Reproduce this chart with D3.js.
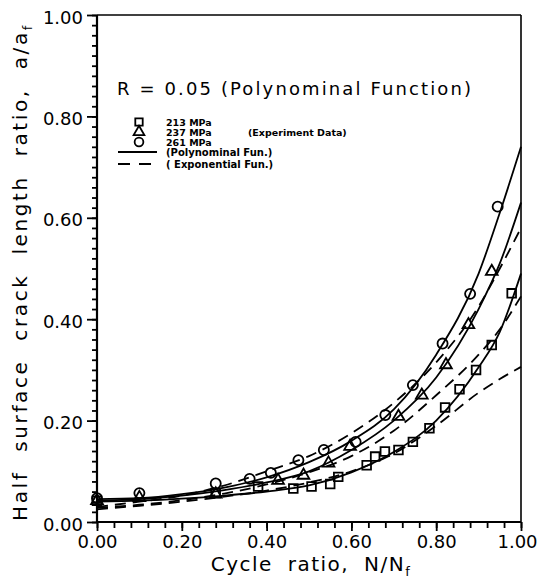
<!DOCTYPE html>
<html>
<head>
<meta charset="utf-8">
<script src="https://cdn.jsdelivr.net/npm/d3@7"></script>
<style>
  body { margin: 0; background: #fff; }
  text { font-family: "DejaVu Sans", "Liberation Sans", sans-serif; fill: #000; }
</style>
</head>
<body>
<div id="chart"></div>
<script>
// R = 0.05 crack growth, a/af vs N/Nf

// tick values
const majorTicks = [0, 0.2, 0.4, 0.6, 0.8, 1.0];

// experiment data
const squareX = [0, 0.28, 0.38, 0.463, 0.506, 0.55, 0.569, 0.636, 0.656, 0.679, 0.711, 0.745, 0.784, 0.821, 0.855, 0.894, 0.931, 0.978];
const squareY = [0.042, 0.057, 0.07, 0.066, 0.07, 0.075, 0.089, 0.112, 0.129, 0.139, 0.142, 0.158, 0.185, 0.226, 0.262, 0.30, 0.349, 0.451];

const triangleX = [0, 0.10, 0.28, 0.427, 0.487, 0.546, 0.597, 0.711, 0.766, 0.823, 0.876, 0.931];
const triangleY = [0.042, 0.048, 0.055, 0.082, 0.092, 0.116, 0.149, 0.208, 0.25, 0.31, 0.389, 0.494];

const circleX = [0, 0.10, 0.28, 0.36, 0.41, 0.475, 0.535, 0.61, 0.68, 0.745, 0.815, 0.88, 0.945];
const circleY = [0.047, 0.057, 0.076, 0.085, 0.097, 0.122, 0.142, 0.158, 0.211, 0.27, 0.352, 0.45, 0.622];

// fitted curves, sampled off the plot
const fitX = [0, 0.1, 0.2, 0.3, 0.4, 0.5, 0.6, 0.7, 0.8, 0.9, 0.95, 1.0];
const squarePoly   = [0.040, 0.042, 0.046, 0.052, 0.060, 0.072, 0.098, 0.138, 0.200, 0.305, 0.375, 0.490];
const squareExp    = [0.025, 0.032, 0.040, 0.050, 0.062, 0.078, 0.100, 0.135, 0.190, 0.255, 0.282, 0.306];
const trianglePoly = [0.042, 0.045, 0.052, 0.063, 0.078, 0.100, 0.142, 0.200, 0.285, 0.420, 0.510, 0.630];
const triangleExp  = [0.028, 0.034, 0.043, 0.056, 0.074, 0.098, 0.130, 0.180, 0.250, 0.330, 0.380, 0.445];
const circlePoly   = [0.045, 0.047, 0.055, 0.068, 0.088, 0.118, 0.160, 0.222, 0.330, 0.490, 0.610, 0.740];
const circleExp    = [0.030, 0.040, 0.052, 0.072, 0.100, 0.130, 0.175, 0.235, 0.315, 0.425, 0.500, 0.580];

const W = 538, H = 582;
const margin = { top: 15, right: 17, bottom: 60, left: 97 };
const innerW = W - margin.left - margin.right;
const innerH = H - margin.top - margin.bottom;

const svg = d3.select("#chart").append("svg")
  .attr("width", W)
  .attr("height", H);

const g = svg.append("g").attr("transform", `translate(${margin.left},${margin.top})`);

const x = d3.scaleLinear().domain([0, 1]).range([0, innerW]);
const y = d3.scaleLinear().domain([0, 1]).range([innerH, 0]);

// ---- axes ----
const yMinor = d3.range(0, 51).map(i => i * 0.02);
const xMinor = d3.range(0, 26).map(i => i * 0.04);

const yMinorAxis = g.append("g")
  .call(d3.axisLeft(y).tickValues(yMinor).tickSize(5).tickFormat(""));
const yMajorAxis = g.append("g")
  .call(d3.axisLeft(y).tickValues(majorTicks).tickSize(10).tickPadding(4).tickFormat(d3.format(".2f")));
const xMinorAxis = g.append("g").attr("transform", `translate(0,${innerH})`)
  .call(d3.axisBottom(x).tickValues(xMinor).tickSize(6).tickFormat(""));
const xMajorAxis = g.append("g").attr("transform", `translate(0,${innerH})`)
  .call(d3.axisBottom(x).tickValues(majorTicks).tickSize(9).tickPadding(4).tickFormat(d3.format(".2f")));

[yMinorAxis, yMajorAxis, xMinorAxis, xMajorAxis].forEach(a => {
  a.select(".domain").remove();
  a.selectAll("line").attr("stroke", "#000").attr("stroke-width", 1.8);
  a.selectAll("text").style("font-size", "18px").style("font-family", "DejaVu Sans");
});
yMajorAxis.selectAll("text").attr("dy", "0.45em");
// last x label sits against the page edge
xMajorAxis.selectAll("text").filter(d => d === 1).attr("dx", -4);

// frame
g.append("line").attr("x1", 0).attr("x2", 0).attr("y1", 0).attr("y2", innerH)
  .attr("stroke", "#000").attr("stroke-width", 2.2);
g.append("line").attr("x1", 0).attr("x2", innerW).attr("y1", innerH).attr("y2", innerH)
  .attr("stroke", "#000").attr("stroke-width", 2.2);
g.append("line").attr("x1", 0).attr("x2", innerW).attr("y1", 0).attr("y2", 0)
  .attr("stroke", "#000").attr("stroke-width", 1.5);
g.append("line").attr("x1", innerW).attr("x2", innerW).attr("y1", 0).attr("y2", innerH)
  .attr("stroke", "#000").attr("stroke-width", 1.6);

// ---- fitted curves ----
const line = d3.line()
  .x(d => x(d[0]))
  .y(d => y(d[1]))
  .curve(d3.curveMonotoneX);

const curves = [
  { vals: squarePoly, dash: null },
  { vals: trianglePoly, dash: null },
  { vals: circlePoly, dash: null },
  { vals: squareExp, dash: "11,7" },
  { vals: triangleExp, dash: "11,7" },
  { vals: circleExp, dash: "11,7" }
];

g.selectAll(".fit")
  .data(curves)
  .enter().append("path")
  .attr("class", "fit")
  .attr("d", c => line(fitX.map((v, i) => [v, c.vals[i]])))
  .attr("fill", "none")
  .attr("stroke", "#000")
  .attr("stroke-width", 1.8)
  .attr("stroke-dasharray", c => c.dash);

// ---- markers ----
const sym = {
  square: d3.symbol().type(d3.symbolSquare).size(75),
  triangle: d3.symbol().type(d3.symbolTriangle).size(60),
  circle: d3.symbol().type(d3.symbolCircle).size(80)
};

function drawPoints(xs, ys, kind){
  g.append("g").selectAll("path")
    .data(xs.map((v, i) => [v, ys[i]]))
    .enter().append("path")
    .attr("transform", d => `translate(${x(d[0])},${y(d[1])})`)
    .attr("d", sym[kind]())
    .attr("fill", "none")
    .attr("stroke", "#000")
    .attr("stroke-width", 1.8);
}
drawPoints(squareX, squareY, "square");
drawPoints(triangleX, triangleY, "triangle");
drawPoints(circleX, circleY, "circle");

// ---- legend ----
svg.append("text")
  .attr("x", 117).attr("y", 95)
  .attr("textLength", 354).attr("lengthAdjust", "spacing")
  .style("font-size", "18px")
  .text("R = 0.05 (Polynominal Function)");

const legendRows = [
  { kind: "square", label: "213 MPa", y: 122 },
  { kind: "triangle", label: "237 MPa", y: 132 },
  { kind: "circle", label: "261 MPa", y: 142 }
];
const legSym = {
  square: d3.symbol().type(d3.symbolSquare).size(55),
  triangle: d3.symbol().type(d3.symbolTriangle).size(50),
  circle: d3.symbol().type(d3.symbolCircle).size(60)
};
legendRows.forEach(r => {
  svg.append("path")
    .attr("transform", `translate(139,${r.y})`)
    .attr("d", legSym[r.kind]())
    .attr("fill", "none").attr("stroke", "#000").attr("stroke-width", 1.8);
  svg.append("text")
    .attr("x", 166).attr("y", r.y + 4)
    .style("font-size", "9.5px").style("font-weight", "bold")
    .text(r.label);
});
svg.append("text")
  .attr("x", 248).attr("y", 136)
  .style("font-size", "9.5px").style("font-weight", "bold")
  .text("(Experiment Data)");

svg.append("line")
  .attr("x1", 118).attr("x2", 157).attr("y1", 152).attr("y2", 152)
  .attr("stroke", "#000").attr("stroke-width", 1.8);
svg.append("text")
  .attr("x", 166).attr("y", 156)
  .style("font-size", "10px").style("font-weight", "bold")
  .text("(Polynominal Fun.)");

svg.append("line")
  .attr("x1", 118).attr("x2", 157).attr("y1", 164).attr("y2", 164)
  .attr("stroke", "#000").attr("stroke-width", 1.8)
  .attr("stroke-dasharray", "12,9");
svg.append("text")
  .attr("x", 166).attr("y", 168)
  .style("font-size", "10px").style("font-weight", "bold")
  .text("( Exponential Fun.)");

// ---- axis titles ----
const xt = svg.append("text")
  .attr("x", 311).attr("y", 571)
  .attr("text-anchor", "middle")
  .style("font-size", "20px")
  .style("letter-spacing", "1.5px")
  .style("word-spacing", "7px");
xt.append("tspan").text("Cycle ratio, N/N");
xt.append("tspan").attr("dy", 5).style("font-size", "13px").text("f");

const yt = svg.append("text")
  .attr("transform", "translate(27,272) rotate(-90)")
  .attr("text-anchor", "middle")
  .style("font-size", "20px")
  .style("letter-spacing", "2.6px")
  .style("word-spacing", "10px");
yt.append("tspan").text("Half surface crack length ratio, a/a");
yt.append("tspan").attr("dy", 5).style("font-size", "13px").text("f");
</script>
</body>
</html>
